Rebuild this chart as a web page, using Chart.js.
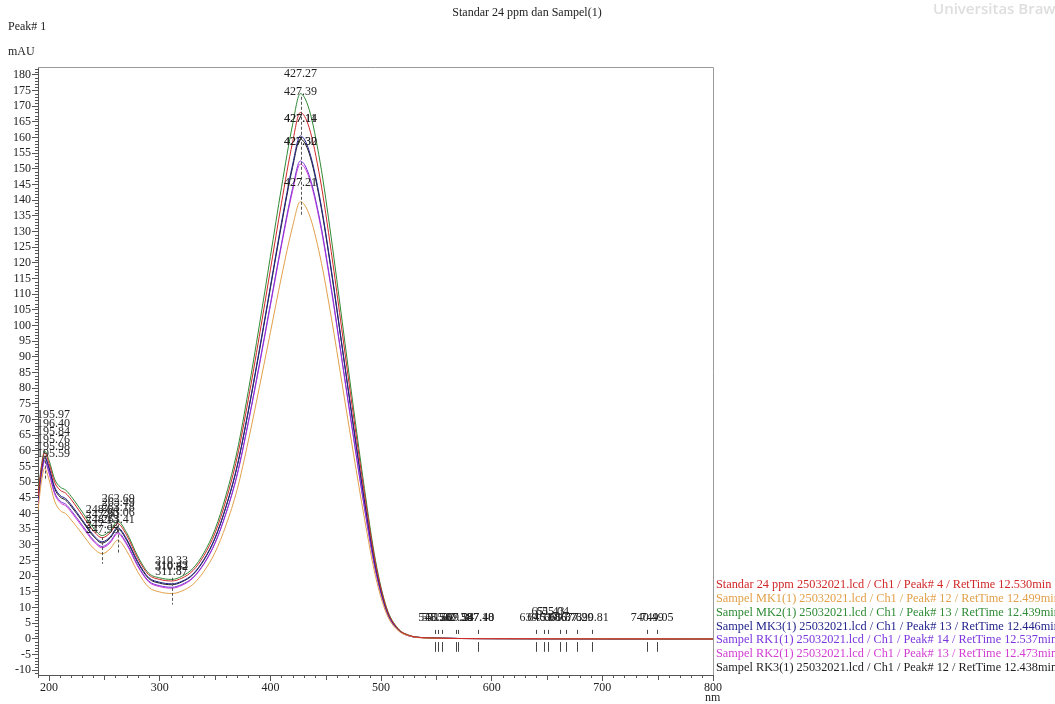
<!DOCTYPE html>
<html>
<head>
<meta charset="utf-8">
<script src="https://cdn.jsdelivr.net/npm/chart.js@4.4.1/dist/chart.umd.min.js"></script>
<style>
  html, body { margin: 0; padding: 0; background: #ffffff; }
  #wrap { width: 1055px; height: 704px; position: relative; }
</style>
</head>
<body>
<div id="wrap"><canvas id="spectrum" width="1055" height="704"></canvas></div>
<script>
// Wavelength grid (nm) shared by all spectra
const wavelengths = [190,193,196,200,205,210,215,220,230,240,248,255,262,270,280,290,300,311,320,330,340,350,360,370,380,390,400,410,420,427,435,445,455,465,475,485,495,505,515,525,540,600,800];

// Absorbance (mAU) per sample
const standar24 = [45.5,54.5,59.5,56,50,47.5,46.5,44.5,39.5,34.5,32.3,33.8,36.8,33.2,25.8,20.5,19,18.5,19.4,21.8,26.6,33.8,44.4,58,76.3,96.6,117.8,139,158.4,168,163.2,146.8,123.6,97.6,71.5,46.4,24.2,9.7,3.4,1.2,0.4,0.1,0];
const sampelMK1 = [41,50,54.5,50.8,44,41,40,38,33.5,29,27.2,28.7,31.5,28.2,21.5,16.5,15,14.5,15.3,17.4,21.6,27.6,36.4,47.7,63.1,80.2,97.8,115.5,131.5,139.5,135.5,121.9,102.7,81,59.3,38.5,20,8,2.8,1,0.3,0.1,0];
const sampelMK2 = [46,55,60,57,51,48.5,47.5,45.5,40.5,35.5,33,34.5,37.5,34,26.5,21,19.5,19,20,22.5,27.5,35,46,60,79,100,122,144,164,174,169,152,128,101,74,48,25,10,3.5,1.2,0.4,0.1,0];
const sampelMK3 = [44.5,53.5,58.3,54.8,48.5,45.8,44.8,42.8,38,33.2,31,32.5,35.5,32,24.8,19.6,18.1,17.6,18.4,20.7,25.4,32.3,42.4,55.3,72.8,92.2,112.5,132.8,151.2,160.5,155.8,140.1,118,93.1,68.2,44.3,23,9.2,3.2,1.1,0.4,0.1,0];
const sampelRK1 = [43.5,52.3,57,53.3,46.8,44,43,41,36.3,31.6,29.5,31,34,30.6,23.6,18.5,17,16.5,17.4,19.6,24.1,30.7,40.3,52.6,69.2,87.6,106.9,126.1,143.7,152.5,148,133.2,112.1,88.5,64.8,42,21.9,8.8,3.1,1,0.4,0.1,0];
const sampelRK2 = [43,52,56.6,52.8,46.3,43.5,42.5,40.5,35.8,31.2,29.1,30.6,33.6,30.2,23.3,18.2,16.7,16.2,17.1,19.4,23.9,30.5,40.1,52.3,68.8,87.1,106.3,125.4,142.8,151.5,147.2,132.4,111.5,88,64.5,41.8,21.8,8.7,3,1,0.4,0.1,0];
const sampelRK3 = [44,53,57.8,54.3,48,45.3,44.3,42.3,37.6,32.8,30.6,32.1,35.1,31.6,24.5,19.3,17.8,17.3,18.2,20.5,25.2,32.1,42.2,55,72.4,91.7,111.9,132,150.4,159.5,155,139.4,117.4,92.6,67.9,44,22.9,9.2,3.2,1.1,0.4,0.1,0];

const seriesNames = [
  'Standar 24 ppm 25032021.lcd / Ch1 / Peak# 4 / RetTime 12.530min',
  'Sampel MK1(1) 25032021.lcd / Ch1 / Peak# 12 / RetTime 12.499min',
  'Sampel MK2(1) 25032021.lcd / Ch1 / Peak# 13 / RetTime 12.439min',
  'Sampel MK3(1) 25032021.lcd / Ch1 / Peak# 13 / RetTime 12.446min',
  'Sampel RK1(1) 25032021.lcd / Ch1 / Peak# 14 / RetTime 12.537min',
  'Sampel RK2(1) 25032021.lcd / Ch1 / Peak# 13 / RetTime 12.473min',
  'Sampel RK3(1) 25032021.lcd / Ch1 / Peak# 12 / RetTime 12.438min'
];
const seriesValues = [standar24, sampelMK1, sampelMK2, sampelMK3, sampelRK1, sampelRK2, sampelRK3];
const seriesColors = ['#d02828', '#e2a04a', '#2f8a35', '#23238c', '#7b35dc', '#d23cd2', '#1e1e1e'];

// Axis tick labels
const xTickValues = [200, 300, 400, 500, 600, 700, 800];
const yTickValues = [-10,-5,0,5,10,15,20,25,30,35,40,45,50,55,60,65,70,75,80,85,90,95,100,105,110,115,120,125,130,135,140,145,150,155,160,165,170,175,180];

// Peak wavelength labels: wavelength, text, and the mAU level where the text sits
const peakNm = [427.3,427.3,427.3,427.3,427.3,427.3,427.3,
  196,196,196,196,196,196,
  248,248,248,248,248,
  262.5,262.5,262.5,262.5,262.5,
  310.7,310.7,310.7,310.7,
  548.6,551.8,555.0,567.5,569.2,587.2,587.4,640,647,651,655,662,667,677,690.8,740.5,749.5];
const peakText = ['427.27','427.39','427.11','427.14','427.30','427.32','427.21',
  '195.97','196.40','195.84','195.76','195.98','195.59',
  '248.64','247.80','248.13','247.52','247.93',
  '262.69','263.49','263.18','263.06','263.41',
  '310.33','310.43','310.82','311.87',
  '548.58','551.62','555.07','567.38','569.24','587.18','587.40','639.51','646.98','651.43','655.04','661.87','666.73','677.29','690.81','740.49','749.05'];
const peakLevel = [180.3,174.5,166,166,158.6,158.6,145.4,
  71.5,68.6,66.1,63.5,61.3,59,
  41.2,39.6,37.9,36.4,34.8,
  44.7,43.4,41.8,40.2,38,
  24.9,23.3,23,21.5,
  6.7,6.7,6.7,6.7,6.7,6.7,6.7,6.7,6.7,8.6,8.6,6.7,6.7,6.7,6.7,6.7,6.7];

// Peak marker lines: wavelength with upper and lower mAU ends
const markerNm = [427.3, 196, 248, 262.5, 310.7];
const markerTop = [173, 58.5, 32.5, 36.5, 19.5];
const markerBottom = [135, 50.5, 24, 27, 11];

// Short baseline markers drawn above and below zero
const baselineNm = [548.6,551.8,555.0,567.5,569.2,587.2,640,647,651,662,667,677,690.8,740.5,749.5];

const SERIF = "'Liberation Serif', 'Times New Roman', serif";
const INK = '#222222';

const decorations = {
  id: 'decorations',
  beforeDraw(chart) {
    const ctx = chart.ctx;
    ctx.save();
    ctx.fillStyle = '#ffffff';
    ctx.fillRect(0, 0, chart.width, chart.height);
    // faint page watermark along the top edge
    ctx.fillStyle = '#dedede';
    ctx.font = "600 15px 'Open Sans', sans-serif";
    ctx.textBaseline = 'middle';
    ctx.fillText('Universitas Brawijaya', 933, 10);
    ctx.restore();
  },
  afterDraw(chart) {
    const { ctx, chartArea: a, scales } = chart;
    const xs = scales.x, ys = scales.y;
    ctx.save();

    // frame top and right
    ctx.strokeStyle = '#9a9a9a';
    ctx.lineWidth = 1;
    ctx.beginPath();
    ctx.moveTo(a.left, a.top + 0.5);
    ctx.lineTo(a.right + 0.5, a.top + 0.5);
    ctx.lineTo(a.right + 0.5, a.bottom);
    ctx.stroke();

    // minor ticks on y (every 1 mAU)
    ctx.strokeStyle = '#555555';
    ctx.beginPath();
    for (let v = Math.ceil(ys.min); v <= ys.max; v++) {
      if (v % 5 === 0) continue;
      const y = Math.round(ys.getPixelForValue(v)) + 0.5;
      ctx.moveTo(a.left - 3, y);
      ctx.lineTo(a.left, y);
    }
    ctx.stroke();

    // minor ticks on x (every 10 nm)
    ctx.beginPath();
    for (let v = 190; v <= 800; v += 10) {
      if (v % 100 === 0) continue;
      const x = Math.round(xs.getPixelForValue(v)) + 0.5;
      const len = (v % 50 === 0) ? 5 : 3;
      ctx.moveTo(x, a.bottom);
      ctx.lineTo(x, a.bottom + len);
    }
    ctx.stroke();

    // peak marker lines
    ctx.strokeStyle = '#555555';
    ctx.setLineDash([3, 2]);
    markerNm.forEach((nm, i) => {
      const x = Math.round(xs.getPixelForValue(nm)) + 0.5;
      ctx.beginPath();
      ctx.moveTo(x, ys.getPixelForValue(markerTop[i]));
      ctx.lineTo(x, ys.getPixelForValue(markerBottom[i]));
      ctx.stroke();
    });
    ctx.setLineDash([]);

    // baseline markers
    ctx.strokeStyle = '#444444';
    ctx.beginPath();
    baselineNm.forEach((nm) => {
      const x = Math.round(xs.getPixelForValue(nm)) + 0.5;
      ctx.moveTo(x, ys.getPixelForValue(2.9));
      ctx.lineTo(x, ys.getPixelForValue(1.6));
      ctx.moveTo(x, ys.getPixelForValue(-1));
      ctx.lineTo(x, ys.getPixelForValue(-4.1));
    });
    ctx.stroke();

    // peak labels
    ctx.font = '12px ' + SERIF;
    ctx.fillStyle = INK;
    ctx.textBaseline = 'middle';
    ctx.textAlign = 'left';
    peakNm.forEach((nm, i) => {
      const w = ctx.measureText(peakText[i]).width;
      let x = xs.getPixelForValue(nm) - w / 2;
      if (x < a.left - 1) x = a.left - 1;
      ctx.fillText(peakText[i], x, ys.getPixelForValue(peakLevel[i]));
    });

    // titles and units
    ctx.textAlign = 'center';
    ctx.fillText('Standar 24 ppm dan Sampel(1)', 527, 13);
    ctx.textAlign = 'left';
    ctx.fillText('Peak# 1', 8, 27);
    ctx.fillText('mAU', 8, 52);
    ctx.fillText('nm', 705, 698);

    // legend entries
    ctx.font = '12.3px ' + SERIF;
    seriesNames.forEach((name, i) => {
      ctx.fillStyle = seriesColors[i];
      ctx.fillText(name, 716, 585 + i * 13.8);
    });

    ctx.restore();
  }
};

new Chart(document.getElementById('spectrum'), {
  type: 'line',
  data: {
    datasets: seriesValues.map((vals, i) => ({
      label: seriesNames[i],
      data: wavelengths.map((w, j) => ({ x: w, y: vals[j] })),
      borderColor: seriesColors[i],
      borderWidth: 1,
      pointRadius: 0,
      fill: false,
      cubicInterpolationMode: 'monotone'
    }))
  },
  options: {
    responsive: false,
    animation: false,
    devicePixelRatio: 1,
    layout: { padding: { left: 0, top: 67, right: 342, bottom: 0 } },
    plugins: { legend: { display: false }, title: { display: false }, tooltip: { enabled: false } },
    scales: {
      x: {
        type: 'linear',
        min: 190, max: 800,
        afterBuildTicks: (s) => { s.ticks = xTickValues.map(v => ({ value: v })); },
        afterFit: (s) => { s.height = 29; },
        grid: { display: true, drawOnChartArea: false, drawTicks: true, tickLength: 6, color: '#555555' },
        border: { display: true, color: '#555555' },
        ticks: { padding: 0, color: INK, font: { family: SERIF, size: 12 }, maxRotation: 0, autoSkip: false }
      },
      y: {
        type: 'linear',
        min: -11.5, max: 182.5,
        afterBuildTicks: (s) => { s.ticks = yTickValues.map(v => ({ value: v })); },
        afterFit: (s) => { s.width = 38; },
        grid: { display: true, drawOnChartArea: false, drawTicks: true, tickLength: 6, color: '#555555' },
        border: { display: true, color: '#555555' },
        ticks: { padding: 1, color: INK, font: { family: SERIF, size: 12 }, autoSkip: false }
      }
    }
  },
  plugins: [decorations]
});
</script>
</body>
</html>
